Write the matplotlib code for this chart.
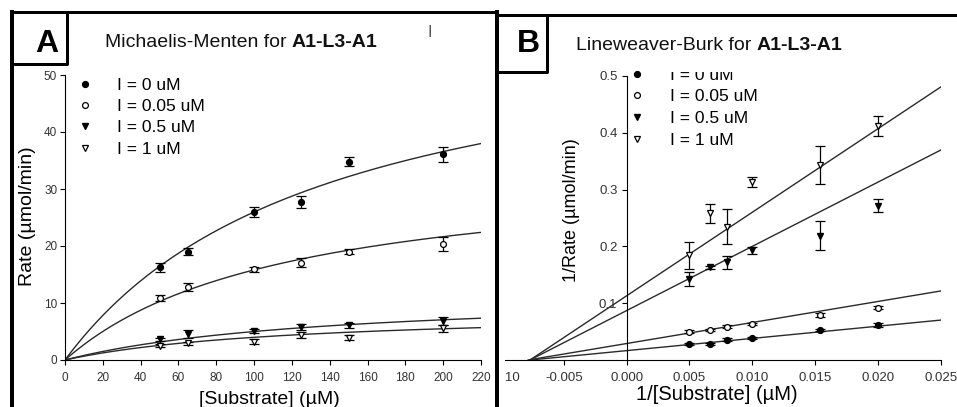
import matplotlib
matplotlib.use('Agg')
import matplotlib.pyplot as plt
import numpy as np
from matplotlib.lines import Line2D
from matplotlib.transforms import Bbox, TransformedBbox, offset_copy

plt.rcParams['font.family'] = ['Liberation Sans', 'DejaVu Sans']
plt.rcParams['axes.unicode_minus'] = False

# ---------------- data ----------------
series_labels = ['I = 0 uM', 'I = 0.05 uM', 'I = 0.5 uM', 'I = 1 uM']

substrate = [50, 65, 100, 125, 150, 200]
rate_i0 = [16.3, 19.0, 26.0, 27.7, 34.8, 36.1]
rate_i0_err = [0.8, 0.6, 0.9, 1.0, 0.8, 1.3]
rate_i005 = [10.9, 12.8, 15.9, 17.1, 19.0, 20.4]
rate_i005_err = [0.5, 0.7, 0.5, 0.8, 0.4, 1.2]
rate_i05 = [3.6, 4.5, 5.1, 5.8, 6.1, 6.9]
rate_i05_err = [0.3, 0.7, 0.3, 0.6, 0.4, 0.7]
rate_i1 = [2.5, 2.9, 3.2, 4.4, 3.9, 5.6]
rate_i1_err = [0.3, 0.3, 0.4, 0.6, 0.4, 0.6]
vmax_fit = [61.8, 34.3, 12.0, 8.8]
km_fit = [138, 117, 140, 121]

inv_substrate = [0.005, 0.00667, 0.008, 0.010, 0.0154, 0.020]
inv_rate_i0 = [0.028, 0.028, 0.036, 0.039, 0.0526, 0.0614]
inv_rate_i0_err = [0.002, 0.002, 0.002, 0.002, 0.002, 0.003]
inv_rate_i005 = [0.0497, 0.0526, 0.0585, 0.063, 0.079, 0.0924]
inv_rate_i005_err = [0.003, 0.002, 0.003, 0.002, 0.004, 0.003]
inv_rate_i05 = [0.143, 0.163, 0.172, 0.193, 0.219, 0.272]
inv_rate_i05_err = [0.012, 0.003, 0.011, 0.006, 0.026, 0.012]
inv_rate_i1 = [0.184, 0.258, 0.235, 0.313, 0.343, 0.412]
inv_rate_i1_err = [0.023, 0.017, 0.031, 0.009, 0.034, 0.018]
lb_intercept = [0.0165, 0.029, 0.087, 0.113]
lb_slope = [2.15, 3.7, 11.3, 14.7]

mm_xticks = [0, 20, 40, 60, 80, 100, 120, 140, 160, 180, 200, 220]
mm_yticks = [0, 10, 20, 30, 40, 50]
lb_xticks = [-0.010, -0.005, 0.000, 0.005, 0.010, 0.015, 0.020, 0.025]
lb_yticks = [0.1, 0.2, 0.3, 0.4, 0.5]

# ---------------- figure ----------------
W, H = 957, 407
fig = plt.figure(figsize=(W / 100, H / 100), dpi=100)


def fx(x):
    return x / W


def fy(y):
    return 1 - y / H


markers = [
    dict(marker='o', mfc='black', mec='black', ms=4.2),
    dict(marker='o', mfc='white', mec='black', ms=4.2, mew=0.9),
    dict(marker='v', mfc='black', mec='black', ms=4.7),
    dict(marker='v', mfc='white', mec='black', ms=4.7, mew=0.9),
]
curve_color = '#2a2a2a'
tick_color = '#333333'

# ---------- Panel A : Michaelis-Menten ----------
axA = fig.add_axes([fx(65), fy(360), (481 - 65) / W, 285 / H])
rates = [rate_i0, rate_i005, rate_i05, rate_i1]
rates_err = [rate_i0_err, rate_i005_err, rate_i05_err, rate_i1_err]
s_line = np.linspace(0, 220, 300)
for vm, km in zip(vmax_fit, km_fit):
    axA.plot(s_line, vm * s_line / (km + s_line), color=curve_color, lw=1.0, zorder=2)
for r, e, m, lab in zip(rates, rates_err, markers, series_labels):
    axA.errorbar(substrate, r, yerr=e, fmt='none', ecolor='black', elinewidth=0.9,
                 capsize=3.6, capthick=0.9, zorder=3, clip_on=False)
    axA.plot(substrate, r, ls='none', label=lab, zorder=4, clip_on=False, **m)

axA.set_xlim(0, 220)
axA.set_ylim(0, 50)
axA.set_xticks(mm_xticks)
axA.set_yticks(mm_yticks)
for sp in ['top', 'right']:
    axA.spines[sp].set_visible(False)
for sp in ['left', 'bottom']:
    axA.spines[sp].set_linewidth(0.8)
axA.tick_params(direction='out', length=3.6, width=0.8, labelsize=8.5,
                labelcolor=tick_color)
axA.tick_params(axis='x', pad=5)
axA.tick_params(axis='y', pad=2)
axA.set_ylabel('Rate (µmol/min)', fontsize=14, va='center', ha='center')
axA.yaxis.set_label_coords((27 - 65) / 416, (360 - 216) / 285)
axA.set_xlabel('[Substrate] (µM)', fontsize=14, va='baseline', ha='center')
axA.xaxis.set_label_coords((269 - 65) / 416, (360 - 404) / 285)

legA = axA.legend(loc='upper left', bbox_to_anchor=(fx(76.3), fy(77.5)),
                  bbox_transform=fig.transFigure, frameon=False, fontsize=12.5,
                  handlelength=1.0, handletextpad=1.34, labelspacing=0.36,
                  borderpad=0, borderaxespad=0, numpoints=1)

# ---------- Panel B : Lineweaver-Burk ----------
axB = fig.add_axes([fx(501), fy(360), 439.6 / W, 284 / H])
inv_rates = [inv_rate_i0, inv_rate_i005, inv_rate_i05, inv_rate_i1]
inv_rates_err = [inv_rate_i0_err, inv_rate_i005_err, inv_rate_i05_err, inv_rate_i1_err]
for b, m in zip(lb_intercept, lb_slope):
    x0 = -b / m
    xl = np.array([x0, 0.025])
    axB.plot(xl, b + m * xl, color=curve_color, lw=1.0, zorder=2)
for r, e, mk, lab in zip(inv_rates, inv_rates_err, markers, series_labels):
    axB.errorbar(inv_substrate, r, yerr=e, fmt='none', ecolor='black', elinewidth=0.9,
                 capsize=3.6, capthick=0.9, zorder=3)
    axB.plot(inv_substrate, r, ls='none', label=lab, zorder=4, **mk)

axB.set_xlim(-0.010, 0.025)
axB.set_ylim(0, 0.5)
axB.set_xticks(lb_xticks)
axB.set_xticklabels(['%.3f' % v for v in lb_xticks])
axB.set_yticks(lb_yticks)
axB.set_yticklabels(['%.1f' % v for v in lb_yticks])
axB.spines['left'].set_position(('data', 0))
for sp in ['top', 'right']:
    axB.spines[sp].set_visible(False)
for sp in ['left', 'bottom']:
    axB.spines[sp].set_linewidth(0.8)
axB.tick_params(direction='out', length=3.6, width=0.8, labelsize=9.5,
                labelcolor=tick_color)
axB.tick_params(axis='x', pad=5)
axB.tick_params(axis='y', pad=3)
axB.set_ylabel('1/Rate (µmol/min)', fontsize=13, va='center', ha='center')
axB.yaxis.set_label_coords((572 - 501) / 439.6, (360 - 210) / 284)
axB.set_xlabel('1/[Substrate] (µM)', fontsize=14.5, va='baseline', ha='center')
axB.xaxis.set_label_coords((717 - 501) / 439.6, (360 - 400) / 284)

legB = axB.legend(loc='upper left', bbox_to_anchor=(fx(628), fy(67.5)),
                  bbox_transform=fig.transFigure, frameon=False, fontsize=12.5,
                  handlelength=1.0, handletextpad=1.41, labelspacing=0.38,
                  borderpad=0, borderaxespad=0, numpoints=1)

# clip panel B elements at the panel edge (the reference crops them there)
clipB = TransformedBbox(Bbox.from_extents(fx(505), 0, 1, 1), fig.transFigure)
axB.spines['bottom'].set_clip_box(clipB)
for t in axB.xaxis.get_major_ticks():
    for art in (t.tick1line, t.label1):
        art.set_clip_box(clipB)
        art.set_clip_on(True)
clipLeg = TransformedBbox(Bbox.from_extents(0, 0, 1, fy(72)), fig.transFigure)
first_txt = legB.get_texts()[0]
first_txt.set_clip_box(clipLeg)
first_txt.set_clip_on(True)

# ---------- titles & labels ----------
def two_part_title(x, y, normal, bold, size):
    t1 = fig.text(fx(x), fy(y), normal, fontsize=size, va='baseline', ha='left',
                  color='#111111')
    fig.canvas.draw()
    x1 = t1.get_window_extent().x1
    fig.text(0, 0, bold, fontsize=size, fontweight='bold', va='baseline', ha='left',
             color='#111111',
             transform=offset_copy(fig.transFigure, fig=fig, x=x1 * 0.72,
                                   y=(H - y) * 0.72, units='points'))


two_part_title(105, 47, 'Michaelis-Menten for ', 'A1-L3-A1', 14)
two_part_title(576, 50, 'Lineweaver-Burk for ', 'A1-L3-A1', 14)
fig.text(fx(430), fy(32.5), 'I', fontsize=11.5, ha='center', va='center', color='#555555')

fig.text(fx(46.5), fy(44), 'A', fontsize=23, fontweight='bold', ha='center', va='center')
fig.text(fx(528.5), fy(44), 'B', fontsize=23, fontweight='bold', ha='center', va='center')


# ---------- frames ----------
def fline(xs, ys, px):
    fig.add_artist(Line2D([fx(x) for x in xs], [fy(y) for y in ys], color='black',
                          lw=px * 0.72, solid_capstyle='projecting'))


fline([12, 12], [12, 407], 4)          # left edge of panel A
fline([12, 496], [12, 12], 3)          # top edge of panel A
fline([12, 66.5, 66.5, 12], [12, 12, 63.5, 63.5], 3)  # A label box
fline([496.5, 496.5], [12, 407], 4)    # divider
fline([496.5, 957], [14.5, 14.5], 3)   # top edge of panel B
fline([496.5, 546.5, 546.5], [71.5, 71.5, 14.5], 3)  # B label box

fig.savefig('out.png', dpi=100)
